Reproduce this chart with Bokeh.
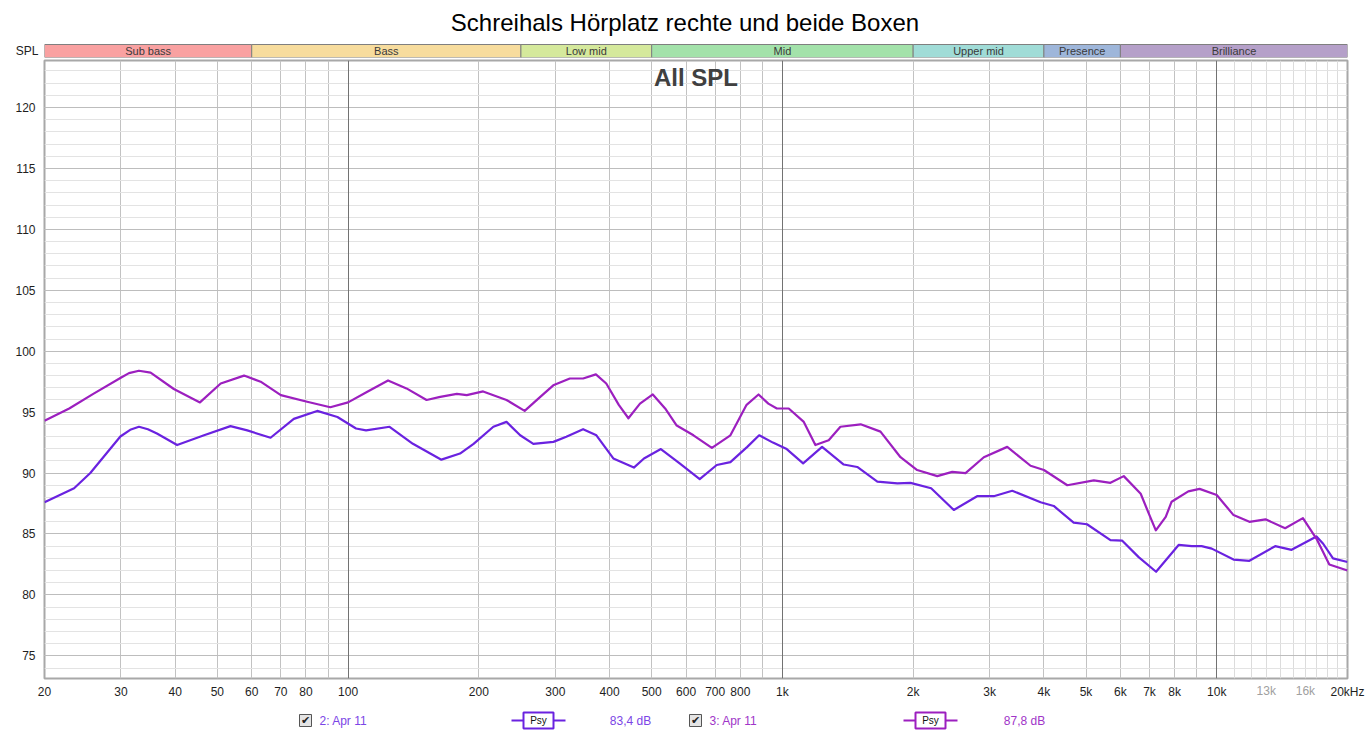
from bokeh.plotting import figure
from bokeh.layouts import column
from bokeh.models import Range1d, FixedTicker, Grid, Label, LogAxis
from bokeh.core.properties import value
from bokeh.embed import file_html
from bokeh.resources import INLINE

# --- data -------------------------------------------------------------
title = "Schreihals Hörplatz rechte und beide Boxen"

band_names = ["Sub bass", "Bass", "Low mid", "Mid", "Upper mid", "Presence", "Brilliance"]
band_lo = [20, 60, 250, 500, 2000, 4000, 6000]
band_hi = [60, 250, 500, 2000, 4000, 6000, 20000]
band_colors = ["#f9a1a1", "#f7dc9d", "#d5e99c", "#a3e2aa", "#a0dcd7", "#9eb6da", "#b5a0c9"]

x_ticks = [20, 30, 40, 50, 60, 70, 80, 100, 200, 300, 400, 500, 600, 700, 800,
           1000, 2000, 3000, 4000, 5000, 6000, 7000, 8000, 10000, 20000]
x_labels = ["20", "30", "40", "50", "60", "70", "80", "100", "200", "300", "400", "500",
            "600", "700", "800", "1k", "2k", "3k", "4k", "5k", "6k", "7k", "8k", "10k", "20kHz"]
grey_ticks = [13000, 16000]
grey_labels = ["13k", "16k"]
y_ticks = [75, 80, 85, 90, 95, 100, 105, 110, 115, 120]

# 2: Apr 11  (83,4 dB)
f2 = [20, 23.4, 25.5, 29.9, 31.5, 33, 34.6, 36.3, 40.4, 46.6, 53.6, 58.6, 66.3, 75, 84.9, 94.5,
      104.3, 110, 124.6, 141, 164, 181, 194.5, 216, 231.6, 249, 267, 297, 318, 347.6,
      373, 408, 455, 480, 525, 580, 645, 706, 759, 830, 884, 951, 1020, 1116, 1234,
      1384, 1487, 1654, 1840, 1972, 2200, 2481, 2807, 3066, 3382, 3930, 4214, 4683,
      5026, 5692, 6060, 6610, 7250, 8170, 8760, 9230, 9740, 10930, 11890, 13630,
      14870, 16970, 17580, 18520, 20000]
db2 = [87.6, 88.75, 90.0, 93.0, 93.55, 93.8, 93.6, 93.25, 92.3, 93.1, 93.85, 93.5, 92.9, 94.45, 95.1, 94.6,
       93.66, 93.5, 93.8, 92.4, 91.1, 91.6, 92.4, 93.8, 94.2, 93.1, 92.4, 92.56, 92.98, 93.6,
       93.1, 91.2, 90.45, 91.2, 91.97, 90.8, 89.5, 90.66, 90.9, 92.15, 93.1, 92.5, 92.0, 90.8, 92.15,
       90.7, 90.5, 89.3, 89.15, 89.2, 88.75, 86.97, 88.1, 88.1, 88.55, 87.6, 87.3, 85.93,
       85.8, 84.5, 84.45, 83.1, 81.9, 84.1, 84.0, 84.0, 83.8, 82.9, 82.8, 84.0,
       83.7, 84.8, 84.2, 83.0, 82.7]

# 3: Apr 11  (87,8 dB)
f3 = [20, 22.8, 25.9, 29.9, 31.3, 33, 35.1, 39.7, 45.6, 50.9, 57.6, 62.9, 70, 80.5, 91, 100,
      111, 123.6, 136.3, 151.6, 163, 178, 187.6, 204.6, 231.6, 255, 277, 296.8, 324,
      347.6, 372, 393, 420, 442, 470, 503, 537, 571, 624, 688, 759, 827, 881, 928, 971,
      1034, 1120, 1191, 1278, 1360, 1514, 1682, 1870, 2043, 2273, 2460, 2640, 2909,
      3293, 3727, 4000, 4528, 5212, 5692, 6108, 6682, 6980, 7240, 7630, 7872, 8600,
      9130, 10000, 10930, 11890, 12950, 14370, 15790, 16970, 18160, 20000]
db3 = [94.3, 95.3, 96.5, 97.8, 98.2, 98.4, 98.25, 96.9, 95.8, 97.35, 98.0, 97.5, 96.4, 95.85, 95.4, 95.8,
       96.7, 97.6, 96.95, 96.0, 96.25, 96.5, 96.4, 96.7, 96.0, 95.1, 96.25, 97.2, 97.76,
       97.76, 98.1, 97.35, 95.6, 94.5, 95.7, 96.45, 95.3, 93.9, 93.1, 92.07, 93.1, 95.6, 96.45, 95.7, 95.3,
       95.3, 94.2, 92.3, 92.7, 93.8, 94.0, 93.4, 91.3, 90.25, 89.75, 90.1, 90.0, 91.3,
       92.15, 90.6, 90.25, 89.0, 89.4, 89.2, 89.75, 88.3, 86.65, 85.3, 86.4, 87.65, 88.5,
       88.7, 88.2, 86.55, 86.0, 86.2, 85.47, 86.3, 84.6, 82.5, 82.0]

names = ["2: Apr 11", "3: Apr 11"]
levels = ["83,4 dB", "87,8 dB"]
line_colors = ["#6a22e0", "#9c1fbf"]
text_colors = ["#7b45e6", "#a035c8"]

FONT = "Liberation Sans"
W = 1366
LEFT, RIGHT = 44, 19

# --- title + band strip -------------------------------------------------
top = figure(width=W, height=58, x_axis_type="log", x_range=Range1d(20, 20000),
             y_range=Range1d(0, 57), x_axis_location=None,
             output_backend="svg", toolbar_location=None,
             min_border_left=LEFT, min_border_right=RIGHT, min_border_top=0, min_border_bottom=1)
top.outline_line_color = None
top.grid.visible = False
top.yaxis.ticker = FixedTicker(ticks=[6.5])
top.yaxis.major_label_overrides = {6.5: "SPL"}
top.yaxis.axis_line_color = None
top.yaxis.major_tick_line_color = None
top.yaxis.minor_tick_line_color = None
top.yaxis.major_tick_out = 0
top.yaxis.major_label_standoff = 6
top.yaxis.major_label_text_font = FONT
top.yaxis.major_label_text_font_size = "12px"
top.yaxis.major_label_text_color = "#222222"

top.quad(left=band_lo, right=band_hi, bottom=0, top=13, fill_color=band_colors,
         line_color="#7f7f7f", line_width=1)
band_mid = [(a * b) ** 0.5 for a, b in zip(band_lo, band_hi)]
top.text(x=band_mid, y=[6.5] * len(band_mid), text=band_names, text_align="center",
         text_baseline="middle", text_font=value(FONT), text_font_size="11px",
         text_color="#3a3a3a")
top.text(x=[596.6], y=[35], text=[title], text_align="center", text_baseline="middle",
         text_font=value(FONT), text_font_size="24px", text_color="#000000")

# --- main chart ----------------------------------------------------------
p = figure(width=W, height=646, x_axis_type="log", x_range=top.x_range,
           y_range=Range1d(73.14, 123.86), output_backend="svg", toolbar_location=None,
           min_border_left=LEFT, min_border_right=RIGHT, min_border_top=2, min_border_bottom=26)
p.outline_line_color = "#a8a8a8"
p.outline_line_width = 2

p.xaxis.ticker = FixedTicker(ticks=x_ticks)
p.xaxis.major_label_overrides = {t: l for t, l in zip(x_ticks, x_labels)}
p.yaxis.ticker = FixedTicker(ticks=y_ticks, minor_ticks=list(range(74, 124)))

# second bottom axis for the greyed labels, pulled up onto the same row
grey_axis = LogAxis(ticker=FixedTicker(ticks=grey_ticks),
                    major_label_overrides={t: l for t, l in zip(grey_ticks, grey_labels)})
p.add_layout(grey_axis, "below")

for ax in (p.xaxis[0], p.yaxis[0], grey_axis):
    ax.axis_line_color = None
    ax.major_tick_line_color = None
    ax.minor_tick_line_color = None
    ax.major_tick_out = 0
    ax.major_tick_in = 0
    ax.major_label_text_font = FONT
    ax.major_label_text_font_size = "12px"
    ax.major_label_text_color = "#1e1e1e"
p.xaxis[0].major_label_standoff = 6
p.yaxis[0].major_label_standoff = 5
grey_axis.major_label_text_color = "#a0a0a0"
grey_axis.major_label_standoff = -18

p.ygrid.grid_line_color = "#bdbdbd"
p.ygrid.minor_grid_line_color = "#e3e3e3"
p.xgrid.ticker = FixedTicker(
    ticks=[30, 40, 50, 60, 70, 80, 90, 200, 300, 400, 500, 600, 700, 800, 900,
           2000, 3000, 4000, 5000, 6000, 7000, 8000, 9000],
    minor_ticks=[11000, 12000, 13000, 14000, 15000, 16000, 17000, 18000, 19000])
p.xgrid.grid_line_color = "#c2c2c2"
p.xgrid.minor_grid_line_color = "#dcdcdc"
p.add_layout(Grid(dimension=0, ticker=FixedTicker(ticks=[100, 1000, 10000]),
                  grid_line_color="#727272"))

p.line(f2, db2, line_color=line_colors[0], line_width=2.2, line_join="round")
p.line(f3, db3, line_color=line_colors[1], line_width=2.2, line_join="round")

p.add_layout(Label(x=632.5, y=122.5, text="All SPL", text_align="center",
                   text_baseline="middle", text_font=FONT, text_font_size="24px",
                   text_font_style="bold", text_color="#404040"))

# --- legend strip (x in page pixels) ------------------------------------
lg = figure(width=W, height=27, x_range=Range1d(LEFT, W - RIGHT), y_range=Range1d(0, 27),
            x_axis_location=None, y_axis_location=None,
            output_backend="svg", toolbar_location=None,
            min_border_left=LEFT, min_border_right=RIGHT, min_border_top=0, min_border_bottom=0)
lg.outline_line_color = None
lg.grid.visible = False

box_x = [305, 695]
name_x = [319, 709]
psy_x = [538, 930]
lvl_x = [630, 1024]
for i in range(2):
    lg.rect(x=box_x[i], y=11, width=12, height=12, fill_color="#e4e4e4", line_color="#555555")
    lg.text(x=[box_x[i]], y=[11], text=["\u2714"], text_align="center", text_baseline="middle",
            text_font=value("DejaVu Sans"), text_font_size="11px", text_color="#222222")
    lg.text(x=[name_x[i]], y=[11], text=[names[i]], text_align="left", text_baseline="middle",
            text_font=value(FONT), text_font_size="12px", text_color=text_colors[i])
    lg.segment(x0=psy_x[i] - 27, y0=11, x1=psy_x[i] + 27, y1=11, line_color=line_colors[i],
               line_width=2)
    lg.rect(x=psy_x[i], y=11, width=30, height=16, fill_color="white",
            line_color=line_colors[i], line_width=2)
    lg.text(x=[psy_x[i]], y=[11], text=["Psy"], text_align="center", text_baseline="middle",
            text_font=value(FONT), text_font_size="10px", text_color="#111111")
    lg.text(x=[lvl_x[i]], y=[11], text=[levels[i]], text_align="center", text_baseline="middle",
            text_font=value(FONT), text_font_size="12px", text_color=text_colors[i])

layout = column(top, p, lg, spacing=0)
open("out.html", "w").write(file_html(layout, INLINE))
